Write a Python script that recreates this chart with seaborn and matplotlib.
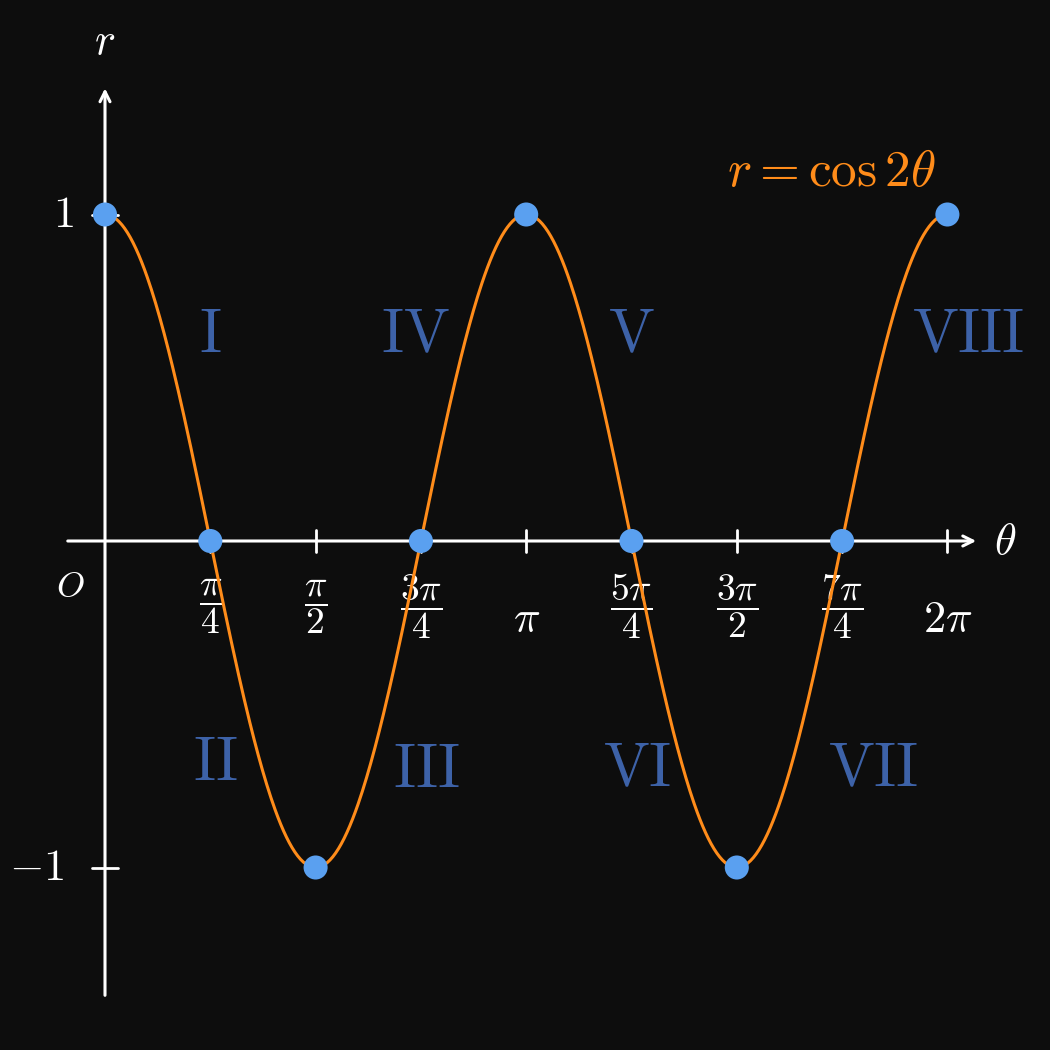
import numpy as np
import seaborn as sns
import matplotlib.pyplot as plt

sns.set_theme(style='white')
plt.rcParams['mathtext.fontset'] = 'cm'
plt.rcParams['font.family'] = ['DejaVu Serif']

# key points of r = cos 2θ (multiples of π/4)
point_theta = [0, 1, 2, 3, 4, 5, 6, 7, 8]          # in units of π/4
point_r = [1, 0, -1, 0, 1, 0, -1, 0, 1]
tick_labels = [r'$\dfrac{\pi}{4}$', r'$\dfrac{\pi}{2}$', r'$\dfrac{3\pi}{4}$', r'$\pi$',
               r'$\dfrac{5\pi}{4}$', r'$\dfrac{3\pi}{2}$', r'$\dfrac{7\pi}{4}$', r'$2\pi$']
numerals = ['I', 'II', 'III', 'IV', 'V', 'VI', 'VII', 'VIII']
numeral_theta = [1.0, 1.05, 3.05, 2.95, 5.0, 5.05, 7.3, 8.2]
numeral_r = [0.63, -0.68, -0.70, 0.63, 0.63, -0.70, -0.70, 0.63]

bg = '#0d0d0d'
orange = '#ff8c1a'
dot = '#5aa0f0'
dark_blue = '#3d62a8'

unit = np.pi / 4
fig = plt.figure(figsize=(10.5, 10.5), dpi=100, facecolor=bg)
ax = fig.add_axes([0, 0, 1, 1])
ax.set_facecolor(bg)
ax.set_xlim(-105 / 105.3 * unit, 945 / 105.3 * unit)
ax.set_ylim(-509 / 326.5, 541 / 326.5)
ax.axis('off')

# axes with arrows
ax.annotate('', xy=(8.3 * unit, 0), xytext=(-0.38 * unit, 0),
            arrowprops=dict(arrowstyle='->', color='white', lw=2.2, mutation_scale=18))
ax.annotate('', xy=(0, 1.395), xytext=(0, -1.40),
            arrowprops=dict(arrowstyle='->', color='white', lw=2.2, mutation_scale=18))
for k in range(1, 9):
    ax.plot([k * unit, k * unit], [-0.033, 0.033], color='white', lw=2)
for v in [1, -1]:
    ax.plot([-0.1, 0.1], [v, v], color='white', lw=2, zorder=2)

ax.text(8.55 * unit, 0, r'$\theta$', color='white', fontsize=32, va='center', ha='center')
ax.text(0, 1.53, r'$r$', color='white', fontsize=32, va='center', ha='center')
ax.text(-0.33 * unit, -0.14, r'$O$', color='white', fontsize=26, ha='center', va='center')
ax.text(-0.4 * unit, 1, r'$1$', color='white', fontsize=32, ha='center', va='center')
ax.text(-0.65 * unit, -1, r'$-1$', color='white', fontsize=32, ha='center', va='center')
for k, lab in enumerate(tick_labels, start=1):
    if 'frac' in lab:
        ax.text(k * unit, -0.2, lab, color='white', fontsize=27, ha='center', va='center')
    else:
        ax.text(k * unit, -0.24, lab, color='white', fontsize=32, ha='center', va='center')

# the curve r = cos 2θ, as labelled in the chart
theta = np.linspace(0, 2 * np.pi, 600)
sns.lineplot(x=theta, y=np.cos(2 * theta), ax=ax, color=orange, lw=2.2, zorder=3)
sns.scatterplot(x=np.array(point_theta) * unit, y=point_r, ax=ax, color=dot, s=300,
                edgecolor='none', zorder=4)

for name, t, r in zip(numerals, numeral_theta, numeral_r):
    ax.text(t * unit, r, r'$\mathrm{' + name + '}$', color=dark_blue, fontsize=44,
            ha='center', va='center')
ax.text(6.9 * unit, 1.13, r'$r = \cos 2\theta$', color=orange, fontsize=37,
        ha='center', va='center')

fig.savefig('out.png', dpi=100, facecolor=bg)
